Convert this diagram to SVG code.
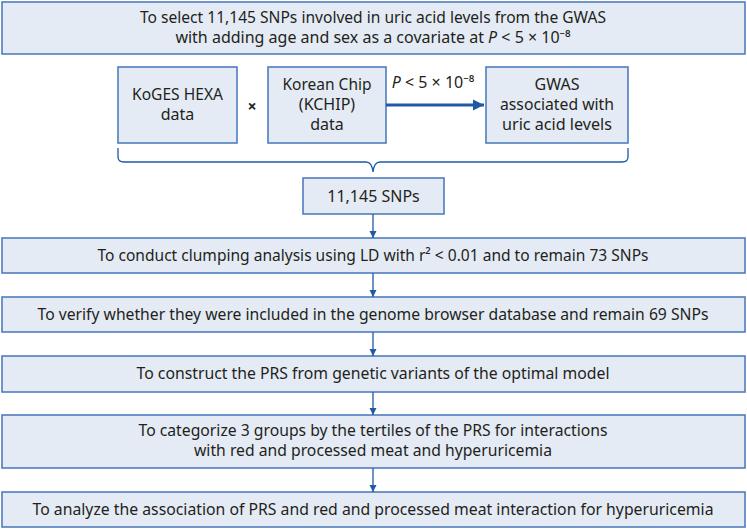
<svg xmlns="http://www.w3.org/2000/svg" width="747" height="529" viewBox="0 0 747 529">
<style>
.box{fill:#e4ebf5;stroke:#4f7dbd;stroke-width:1.6}
.t{font-family:"Noto Sans","Liberation Sans",sans-serif;font-size:16px;fill:#231f20;text-anchor:middle}
.c{stroke:#1f5aa6;stroke-width:1.3;fill:none}
</style>
<defs>
<marker id="ah" markerWidth="8" markerHeight="8" refX="7" refY="4" orient="auto" markerUnits="userSpaceOnUse">
<path d="M0,0.5 L7,4 L0,7.5 Z" fill="#1f5aa6"/>
</marker>
<marker id="ahb" markerWidth="12" markerHeight="12" refX="11" refY="6" orient="auto" markerUnits="userSpaceOnUse">
<path d="M0,0.5 L11,6 L0,11.5 Z" fill="#1f5aa6"/>
</marker>
</defs>
<rect width="747" height="529" fill="#ffffff"/>
<g id="n-top">
<rect class="box" x="2" y="2" width="743" height="52"/>
<text class="t" x="373" y="23" textLength="466" lengthAdjust="spacingAndGlyphs">To select 11,145 SNPs involved in uric acid levels from the GWAS</text>
<text class="t" x="373" y="43">with adding age and sex as a covariate at <tspan font-style="italic">P</tspan> &lt; 5 × 10⁻⁸</text>
</g>
<g id="n-koges">
<rect class="box" x="118" y="67" width="119" height="76"/>
<text class="t" x="177.5" y="100" textLength="91" lengthAdjust="spacingAndGlyphs">KoGES HEXA</text>
<text class="t" x="177.5" y="120">data</text>
</g>
<text class="t" x="252" y="112" font-weight="bold" font-size="19">×</text>
<g id="n-kchip">
<rect class="box" x="268" y="67" width="118" height="76"/>
<text class="t" x="327" y="90" textLength="89" lengthAdjust="spacingAndGlyphs">Korean Chip</text>
<text class="t" x="327" y="110">(KCHIP)</text>
<text class="t" x="327" y="130">data</text>
</g>
<g id="n-gwas">
<rect class="box" x="486" y="67" width="142" height="76"/>
<text class="t" x="557" y="90">GWAS</text>
<text class="t" x="557" y="110" textLength="114" lengthAdjust="spacingAndGlyphs">associated with</text>
<text class="t" x="557" y="130" textLength="110" lengthAdjust="spacingAndGlyphs">uric acid levels</text>
</g>
<g id="n-snps">
<rect class="box" x="303" y="178" width="141" height="36"/>
<text class="t" x="373.5" y="202">11,145 SNPs</text>
</g>
<g id="n-clump">
<rect class="box" x="2" y="238" width="743" height="35"/>
<text class="t" x="373" y="261" textLength="551" lengthAdjust="spacingAndGlyphs">To conduct clumping analysis using LD with r² &lt; 0.01 and to remain 73 SNPs</text>
</g>
<g id="n-verify">
<rect class="box" x="2" y="297" width="743" height="35"/>
<text class="t" x="373" y="320" textLength="671" lengthAdjust="spacingAndGlyphs">To verify whether they were included in the genome browser database and remain 69 SNPs</text>
</g>
<g id="n-prs">
<rect class="box" x="2" y="356" width="743" height="36"/>
<text class="t" x="373" y="379" textLength="473" lengthAdjust="spacingAndGlyphs">To construct the PRS from genetic variants of the optimal model</text>
</g>
<g id="n-tertile">
<rect class="box" x="2" y="415" width="743" height="53"/>
<text class="t" x="373" y="436" textLength="469" lengthAdjust="spacingAndGlyphs">To categorize 3 groups by the tertiles of the PRS for interactions</text>
<text class="t" x="373" y="456" textLength="358" lengthAdjust="spacingAndGlyphs">with red and processed meat and hyperuricemia</text>
</g>
<g id="n-analyze">
<rect class="box" x="2" y="492" width="743" height="35"/>
<text class="t" x="373" y="515" textLength="681" lengthAdjust="spacingAndGlyphs">To analyze the association of PRS and red and processed meat interaction for hyperuricemia</text>
</g>
<g id="connectors">
<path d="M386,105 H484" stroke="#1f5aa6" stroke-width="3" fill="none" marker-end="url(#ahb)"/>
<text class="t" x="433" y="88" font-size="15"><tspan font-style="italic">P</tspan> &lt; 5 × 10⁻⁸</text>
<path class="c" d="M118,148 V157 Q118,162 124,162 H366 Q372,162 373,172 Q374,162 380,162 H622 Q628,162 628,157 V148"/>
<path class="c" d="M373,214 V238" marker-end="url(#ah)"/>
<path class="c" d="M373,273 V297" marker-end="url(#ah)"/>
<path class="c" d="M373,332 V356" marker-end="url(#ah)"/>
<path class="c" d="M373,392 V415" marker-end="url(#ah)"/>
<path class="c" d="M373,468 V492" marker-end="url(#ah)"/>
</g>
</svg>
